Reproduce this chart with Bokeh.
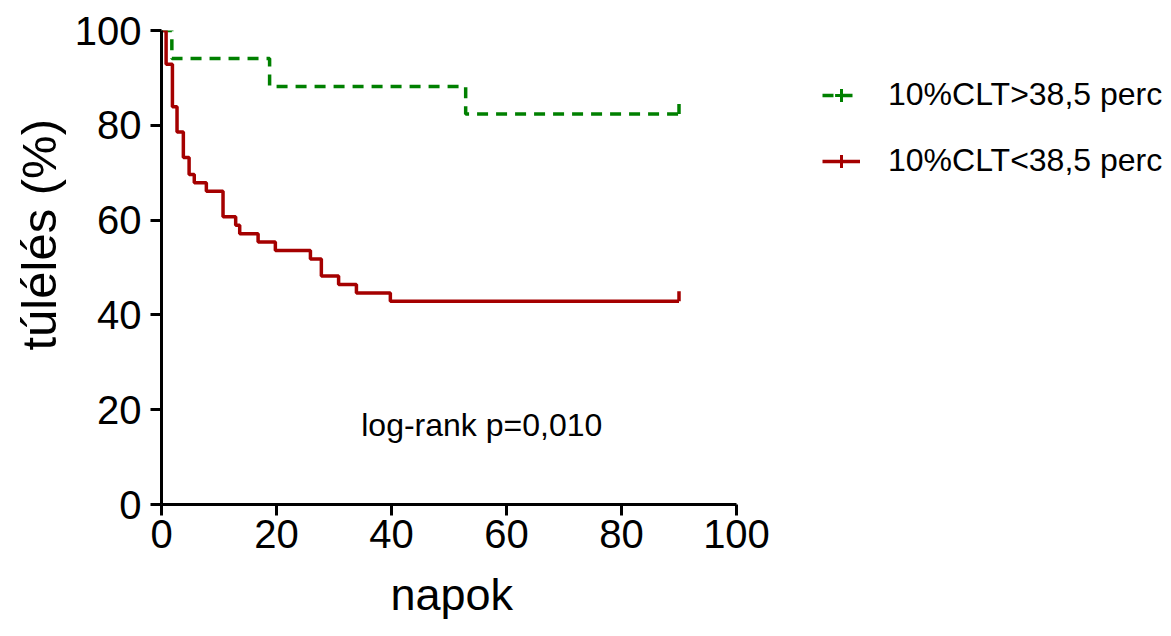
import math
from bokeh.plotting import figure
from bokeh.models import Label, Legend, LegendItem, FixedTicker, Range1d, Title
from bokeh.embed import file_html
from bokeh.resources import INLINE

# ---- data ----
red_days = [0, 0.8, 1.9, 2.7, 3.8, 4.8, 5.7, 7.8, 10.7, 12.9, 13.6, 16.8, 19.8, 25.9, 27.8, 30.8, 33.9, 39.8, 90]
red_surv = [100, 92.9, 83.9, 78.6, 73.2, 69.6, 67.9, 66.1, 60.7, 58.9, 57.1, 55.4, 53.6, 51.8, 48.2, 46.4, 44.6, 42.9, 42.9]
red_cens_days = [90]
red_cens_surv = [42.9]

green_days = [0, 1.8, 18.8, 52.9, 90]
green_surv = [100, 94.1, 88.2, 82.4, 82.4]
green_cens_days = [90]
green_cens_surv = [82.4]

x_ticks = [0, 20, 40, 60, 80, 100]
y_ticks = [0, 20, 40, 60, 80, 100]

green_label = "10%CLT>38,5 perc"
red_label = "10%CLT<38,5 perc"
annotation = "log-rank p=0,010"
x_title = "napok"
y_title = "túlélés (%)"

RED = "#a50000"
GREEN = "#008000"
FONT = "Liberation Sans"
TICK_LIFT = 1.05  # censor tick drawn upward from the level (style offset)

W, H = 1171, 636
LEFT, TOP, BOTTOM = 161, 30, 132
AXIS_RIGHT_PX = 736  # where x = 100 sits on the canvas
x_end = 100.0 * (W - LEFT) / (AXIS_RIGHT_PX - LEFT)  # frame spans to the canvas edge so the legend is not clipped

p = figure(width=W, height=H, x_range=Range1d(0, x_end), y_range=Range1d(0, 100),
           output_backend="svg", toolbar_location=None,
           min_border_left=LEFT, min_border_right=0, min_border_top=TOP, min_border_bottom=BOTTOM)
p.xgrid.visible = False
p.ygrid.visible = False
p.outline_line_color = None
p.background_fill_color = "white"
p.border_fill_color = "white"

for ax in (p.xaxis[0], p.yaxis[0]):
    ax.axis_line_width = 3
    ax.axis_line_color = "black"
    ax.major_tick_line_width = 3
    ax.major_tick_line_color = "black"
    ax.major_tick_out = 11
    ax.major_tick_in = 0
    ax.minor_tick_line_color = None
    ax.major_label_text_font = FONT
    ax.major_label_text_font_size = "40px"
    ax.major_label_text_color = "black"

p.xaxis.ticker = FixedTicker(ticks=x_ticks)
p.yaxis.ticker = FixedTicker(ticks=y_ticks)
p.xaxis.bounds = (0, 100)
p.yaxis.bounds = (0, 100)
p.xaxis.major_label_standoff = 4
p.yaxis.major_label_standoff = 9

# axis titles as side-panel titles so they can be positioned like the reference
p.add_layout(Title(text=x_title, align="left", offset=229, text_font=FONT, text_font_size="45px",
                   text_font_style="normal", text_color="black", standoff=33), "below")
p.add_layout(Title(text=y_title, align="left", offset=154, text_font=FONT, text_font_size="49px",
                   text_font_style="normal", text_color="black", standoff=12), "left")

g_line = p.step(green_days, green_surv, mode="after", line_color=GREEN, line_width=3.5, line_dash="11 8")
g_cens = p.scatter(green_cens_days, [s + TICK_LIFT for s in green_cens_surv], marker="dash",
                   angle=math.pi / 2, size=10, line_color=GREEN, line_width=3.5)
r_line = p.step(red_days, red_surv, mode="after", line_color=RED, line_width=3.5)
r_cens = p.scatter(red_cens_days, [s + TICK_LIFT for s in red_cens_surv], marker="dash",
                   angle=math.pi / 2, size=10, line_color=RED, line_width=3.5)

# legend-key censor symbols: placed far below the visible y range so only the legend shows them
KEY_OFFSCREEN = -1000
g_key = p.scatter(green_cens_days, [KEY_OFFSCREEN], marker="cross", size=10, line_color=GREEN, line_width=3)
r_key = p.scatter(red_cens_days, [KEY_OFFSCREEN], marker="cross", size=10, line_color=RED, line_width=3)

legend = Legend(items=[LegendItem(label=green_label, renderers=[g_line, g_key]),
                       LegendItem(label=red_label, renderers=[r_line, r_key])],
                location=(661, 325), glyph_width=38, glyph_height=32, label_height=32,
                label_standoff=28, spacing=29, padding=0, margin=0,
                border_line_alpha=0, background_fill_alpha=0,
                label_text_font=FONT, label_text_font_size="32px", label_text_color="black")
p.add_layout(legend)

p.add_layout(Label(x=55.7, y=16.7, text=annotation, text_align="center", text_baseline="middle",
                   text_font=FONT, text_font_size="32px", text_color="black"))

open("out.html", "w").write(file_html(p, INLINE))
